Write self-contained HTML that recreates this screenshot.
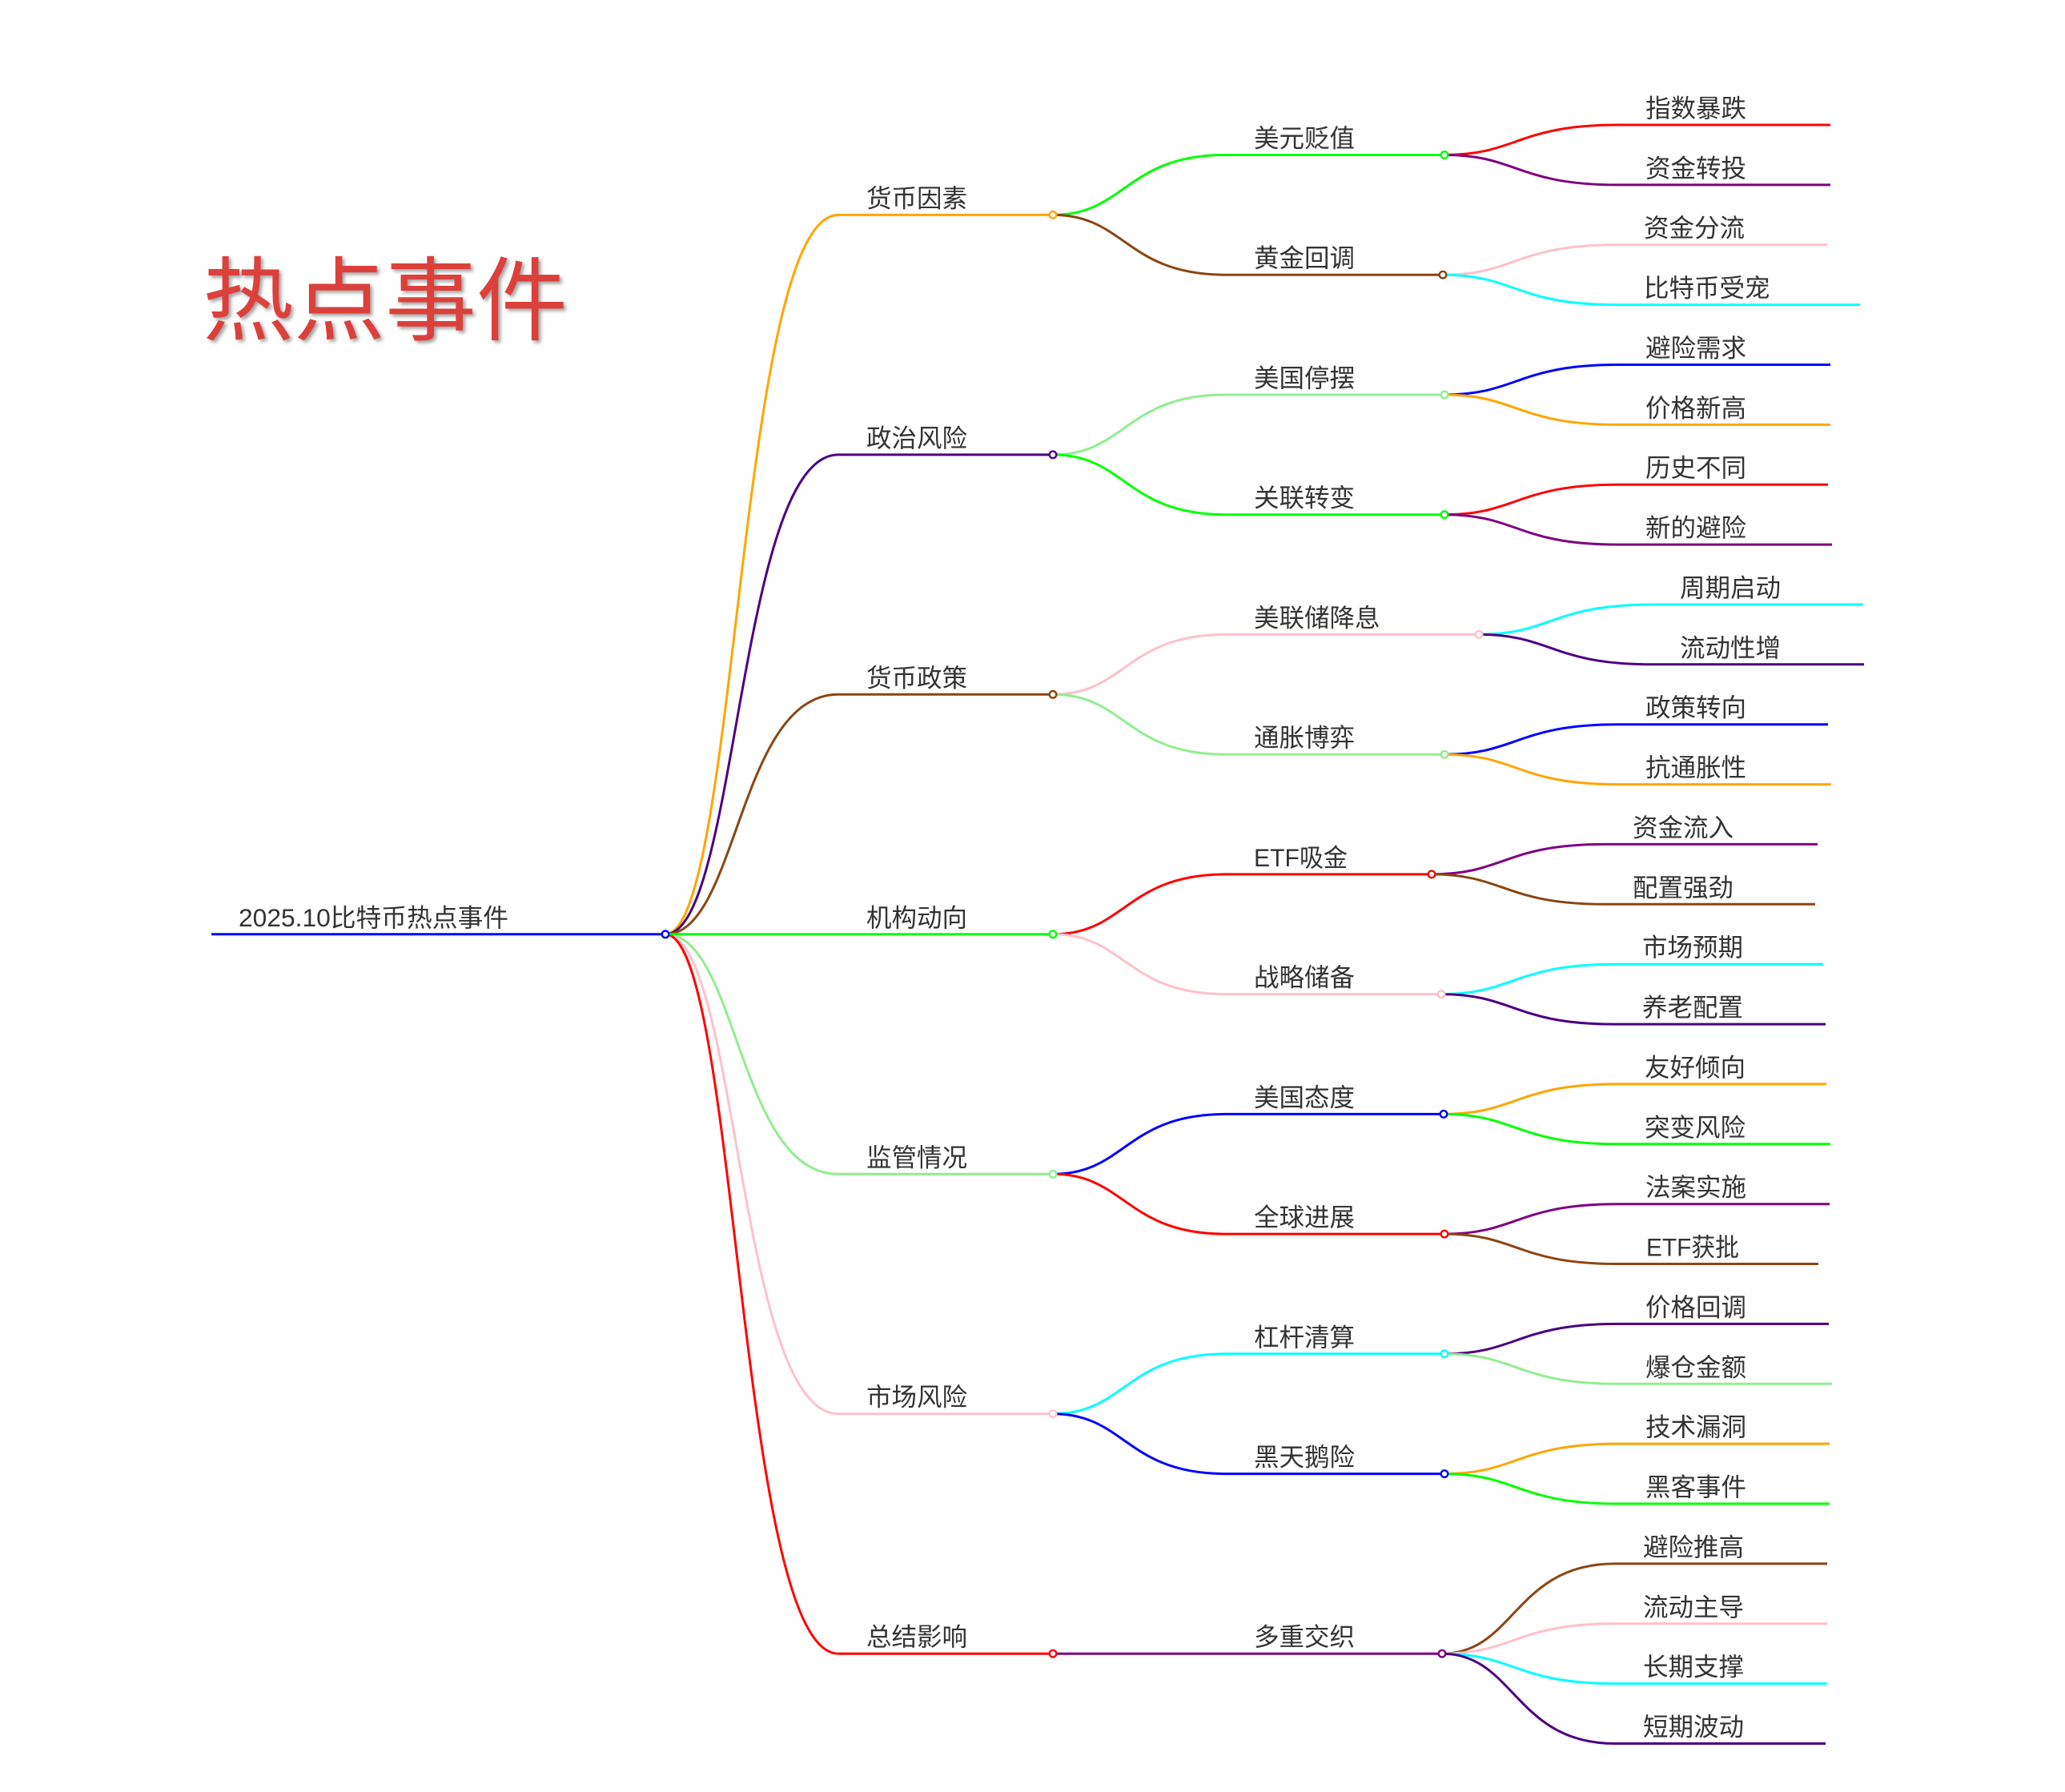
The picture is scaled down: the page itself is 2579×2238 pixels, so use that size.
<!DOCTYPE html>
<html>
<head>
<meta charset="utf-8">
<style>
  html, body { margin:0; padding:0; background:#ffffff; }
  body { width:2579px; height:2238px; overflow:hidden; }
  svg { display:block; }
  .t { font-family:"Liberation Sans","Noto Sans CJK SC",sans-serif; font-size:31.5px; fill:#333333; }
  .ln { fill:none; stroke-width:3; }
  .c { fill:#ffffff; stroke-width:2.4; }
</style>
</head>
<body>
<svg width="2579" height="2238" viewBox="0 0 2579 2238" xmlns="http://www.w3.org/2000/svg">
  <defs>
    <filter id="sh" x="-10%" y="-20%" width="130%" height="150%">
      <feDropShadow dx="3" dy="3" stdDeviation="2.2" flood-color="#555555" flood-opacity="0.55"/>
    </filter>
  </defs>

  <!-- Title -->
  <text x="253" y="416" font-family="'Noto Sans CJK SC','WenQuanYi Zen Hei',sans-serif" font-size="114" fill="#dc3f3a" filter="url(#sh)">热点事件</text>

  <!-- Root line -->
  <path class="ln" stroke="#0000ff" d="M264 1166.8 L831 1166.8"/>

  <!-- Level 1 links -->
  <path class="ln" stroke="#ffa500" d="M831 1166.8 C921.7 1166.8 921.7 268.4 1047 268.4 L1315 268.4"/>
  <path class="ln" stroke="#4b0082" d="M831 1166.8 C921.7 1166.8 921.7 567.9 1047 567.9 L1315 567.9"/>
  <path class="ln" stroke="#8b4513" d="M831 1166.8 C921.7 1166.8 921.7 867.3 1047 867.3 L1315 867.3"/>
  <path class="ln" stroke="#90ee90" d="M831 1166.8 C921.7 1166.8 921.7 1466.3 1047 1466.3 L1315 1466.3"/>
  <path class="ln" stroke="#ffc0cb" d="M831 1166.8 C921.7 1166.8 921.7 1765.7 1047 1765.7 L1315 1765.7"/>
  <path class="ln" stroke="#ff0000" d="M831 1166.8 C921.7 1166.8 921.7 2065.2 1047 2065.2 L1315 2065.2"/>
  <path class="ln" stroke="#00ff00" d="M831 1166.8 L1315 1166.8"/>

  <!-- Level 2 links -->
  <path class="ln" stroke="#00ff00" d="M1315 268.4 C1405.7 268.4 1405.7 193.5 1531 193.5 L1804 193.5"/>
  <path class="ln" stroke="#8b4513" d="M1315 268.4 C1405.7 268.4 1405.7 343.2 1531 343.2 L1802 343.2"/>
  <path class="ln" stroke="#90ee90" d="M1315 567.9 C1405.7 567.9 1405.7 493.0 1531 493.0 L1804 493.0"/>
  <path class="ln" stroke="#00ff00" d="M1315 567.9 C1405.7 567.9 1405.7 642.7 1531 642.7 L1804 642.7"/>
  <path class="ln" stroke="#ffc0cb" d="M1315 867.3 C1405.7 867.3 1405.7 792.4 1531 792.4 L1847 792.4"/>
  <path class="ln" stroke="#90ee90" d="M1315 867.3 C1405.7 867.3 1405.7 942.2 1531 942.2 L1804 942.2"/>
  <path class="ln" stroke="#ff0000" d="M1315 1166.8 C1405.7 1166.8 1405.7 1091.9 1531 1091.9 L1788 1091.9"/>
  <path class="ln" stroke="#ffc0cb" d="M1315 1166.8 C1405.7 1166.8 1405.7 1241.6 1531 1241.6 L1800 1241.6"/>
  <path class="ln" stroke="#0000ff" d="M1315 1466.3 C1405.7 1466.3 1405.7 1391.4 1531 1391.4 L1803 1391.4"/>
  <path class="ln" stroke="#ff0000" d="M1315 1466.3 C1405.7 1466.3 1405.7 1541.1 1531 1541.1 L1804 1541.1"/>
  <path class="ln" stroke="#00ffff" d="M1315 1765.7 C1405.7 1765.7 1405.7 1690.8 1531 1690.8 L1804 1690.8"/>
  <path class="ln" stroke="#0000ff" d="M1315 1765.7 C1405.7 1765.7 1405.7 1840.6 1531 1840.6 L1804 1840.6"/>
  <path class="ln" stroke="#800080" d="M1315 2065.2 L1801 2065.2"/>

  <!-- Leaf links -->
  <path class="ln" stroke="#ff0000" d="M1804 193.5 C1894.7 193.5 1894.7 156.0 2020 156.0 L2286 156.0"/>
  <path class="ln" stroke="#800080" d="M1804 193.5 C1894.7 193.5 1894.7 230.9 2020 230.9 L2286 230.9"/>
  <path class="ln" stroke="#ffc0cb" d="M1802 343.2 C1892.7 343.2 1892.7 305.7 2018 305.7 L2282 305.7"/>
  <path class="ln" stroke="#00ffff" d="M1802 343.2 C1892.7 343.2 1892.7 380.6 2018 380.6 L2323 380.6"/>
  <path class="ln" stroke="#0000ff" d="M1804 493.0 C1894.7 493.0 1894.7 455.5 2020 455.5 L2286 455.5"/>
  <path class="ln" stroke="#ffa500" d="M1804 493.0 C1894.7 493.0 1894.7 530.4 2020 530.4 L2286 530.4"/>
  <path class="ln" stroke="#ff0000" d="M1804 642.7 C1894.7 642.7 1894.7 605.2 2020 605.2 L2283 605.2"/>
  <path class="ln" stroke="#800080" d="M1804 642.7 C1894.7 642.7 1894.7 680.1 2020 680.1 L2288 680.1"/>
  <path class="ln" stroke="#00ffff" d="M1847 792.4 C1937.7 792.4 1937.7 755.0 2063 755.0 L2327 755.0"/>
  <path class="ln" stroke="#4b0082" d="M1847 792.4 C1937.7 792.4 1937.7 829.8 2063 829.8 L2328 829.8"/>
  <path class="ln" stroke="#0000ff" d="M1804 942.2 C1894.7 942.2 1894.7 904.7 2020 904.7 L2283 904.7"/>
  <path class="ln" stroke="#ffa500" d="M1804 942.2 C1894.7 942.2 1894.7 979.6 2020 979.6 L2287 979.6"/>
  <path class="ln" stroke="#800080" d="M1788 1091.9 C1878.7 1091.9 1878.7 1054.4 2004 1054.4 L2270 1054.4"/>
  <path class="ln" stroke="#8b4513" d="M1788 1091.9 C1878.7 1091.9 1878.7 1129.3 2004 1129.3 L2267 1129.3"/>
  <path class="ln" stroke="#00ffff" d="M1800 1241.6 C1890.7 1241.6 1890.7 1204.2 2016 1204.2 L2277 1204.2"/>
  <path class="ln" stroke="#4b0082" d="M1800 1241.6 C1890.7 1241.6 1890.7 1279.1 2016 1279.1 L2280 1279.1"/>
  <path class="ln" stroke="#ffa500" d="M1803 1391.4 C1893.7 1391.4 1893.7 1353.9 2019 1353.9 L2281 1353.9"/>
  <path class="ln" stroke="#00ff00" d="M1803 1391.4 C1893.7 1391.4 1893.7 1428.8 2019 1428.8 L2286 1428.8"/>
  <path class="ln" stroke="#800080" d="M1804 1541.1 C1894.7 1541.1 1894.7 1503.7 2020 1503.7 L2285 1503.7"/>
  <path class="ln" stroke="#8b4513" d="M1804 1541.1 C1894.7 1541.1 1894.7 1578.5 2020 1578.5 L2271 1578.5"/>
  <path class="ln" stroke="#4b0082" d="M1804 1690.8 C1894.7 1690.8 1894.7 1653.4 2020 1653.4 L2284 1653.4"/>
  <path class="ln" stroke="#90ee90" d="M1804 1690.8 C1894.7 1690.8 1894.7 1728.3 2020 1728.3 L2288 1728.3"/>
  <path class="ln" stroke="#ffa500" d="M1804 1840.6 C1894.7 1840.6 1894.7 1803.1 2020 1803.1 L2285 1803.1"/>
  <path class="ln" stroke="#00ff00" d="M1804 1840.6 C1894.7 1840.6 1894.7 1878.0 2020 1878.0 L2285 1878.0"/>
  <path class="ln" stroke="#8b4513" d="M1801 2065.2 C1891.7 2065.2 1891.7 1952.9 2017 1952.9 L2282 1952.9"/>
  <path class="ln" stroke="#ffc0cb" d="M1801 2065.2 C1891.7 2065.2 1891.7 2027.8 2017 2027.8 L2282 2027.8"/>
  <path class="ln" stroke="#00ffff" d="M1801 2065.2 C1891.7 2065.2 1891.7 2102.6 2017 2102.6 L2282 2102.6"/>
  <path class="ln" stroke="#4b0082" d="M1801 2065.2 C1891.7 2065.2 1891.7 2177.5 2017 2177.5 L2280 2177.5"/>

  <!-- Circles -->
  <circle class="c" cx="831" cy="1166.8" r="4.3" stroke="#0000ff"/>
  <circle class="c" cx="1315" cy="268.4" r="4.3" stroke="#ffa500"/>
  <circle class="c" cx="1315" cy="567.9" r="4.3" stroke="#4b0082"/>
  <circle class="c" cx="1315" cy="867.3" r="4.3" stroke="#8b4513"/>
  <circle class="c" cx="1315" cy="1166.8" r="4.3" stroke="#00ff00"/>
  <circle class="c" cx="1315" cy="1466.3" r="4.3" stroke="#90ee90"/>
  <circle class="c" cx="1315" cy="1765.7" r="4.3" stroke="#ffc0cb"/>
  <circle class="c" cx="1315" cy="2065.2" r="4.3" stroke="#ff0000"/>

  <circle class="c" cx="1804" cy="193.5" r="4.3" stroke="#00ff00"/>
  <circle class="c" cx="1802" cy="343.2" r="4.3" stroke="#8b4513"/>
  <circle class="c" cx="1804" cy="493.0" r="4.3" stroke="#90ee90"/>
  <circle class="c" cx="1804" cy="642.7" r="4.3" stroke="#00ff00"/>
  <circle class="c" cx="1847" cy="792.4" r="4.3" stroke="#ffc0cb"/>
  <circle class="c" cx="1804" cy="942.2" r="4.3" stroke="#90ee90"/>
  <circle class="c" cx="1788" cy="1091.9" r="4.3" stroke="#ff0000"/>
  <circle class="c" cx="1800" cy="1241.6" r="4.3" stroke="#ffc0cb"/>
  <circle class="c" cx="1803" cy="1391.4" r="4.3" stroke="#0000ff"/>
  <circle class="c" cx="1804" cy="1541.1" r="4.3" stroke="#ff0000"/>
  <circle class="c" cx="1804" cy="1690.8" r="4.3" stroke="#00ffff"/>
  <circle class="c" cx="1804" cy="1840.6" r="4.3" stroke="#0000ff"/>
  <circle class="c" cx="1801" cy="2065.2" r="4.3" stroke="#800080"/>

  <!-- Root label -->
  <text class="t" x="298" y="1156.8" textLength="337" lengthAdjust="spacingAndGlyphs">2025.10比特币热点事件</text>

  <!-- Level 1 labels -->
  <text class="t" x="1082" y="258.4">货币因素</text>
  <text class="t" x="1082" y="557.9">政治风险</text>
  <text class="t" x="1082" y="857.3">货币政策</text>
  <text class="t" x="1082" y="1156.8">机构动向</text>
  <text class="t" x="1082" y="1456.3">监管情况</text>
  <text class="t" x="1082" y="1755.7">市场风险</text>
  <text class="t" x="1082" y="2055.2">总结影响</text>

  <!-- Level 2 labels -->
  <text class="t" x="1566" y="183.5">美元贬值</text>
  <text class="t" x="1566" y="333.2">黄金回调</text>
  <text class="t" x="1566" y="483.0">美国停摆</text>
  <text class="t" x="1566" y="632.7">关联转变</text>
  <text class="t" x="1566" y="782.4">美联储降息</text>
  <text class="t" x="1566" y="932.2">通胀博弈</text>
  <text class="t" x="1566" y="1081.9" textLength="117" lengthAdjust="spacingAndGlyphs">ETF吸金</text>
  <text class="t" x="1566" y="1231.6">战略储备</text>
  <text class="t" x="1566" y="1381.4">美国态度</text>
  <text class="t" x="1566" y="1531.1">全球进展</text>
  <text class="t" x="1566" y="1680.8">杠杆清算</text>
  <text class="t" x="1566" y="1830.6">黑天鹅险</text>
  <text class="t" x="1566" y="2055.2">多重交织</text>

  <!-- Leaf labels -->
  <text class="t" x="2055" y="146.0">指数暴跌</text>
  <text class="t" x="2055" y="220.9">资金转投</text>
  <text class="t" x="2053" y="295.7">资金分流</text>
  <text class="t" x="2053" y="370.6">比特币受宠</text>
  <text class="t" x="2055" y="445.5">避险需求</text>
  <text class="t" x="2055" y="520.4">价格新高</text>
  <text class="t" x="2055" y="595.2">历史不同</text>
  <text class="t" x="2055" y="670.1">新的避险</text>
  <text class="t" x="2098" y="745.0">周期启动</text>
  <text class="t" x="2098" y="819.8">流动性增</text>
  <text class="t" x="2055" y="894.7">政策转向</text>
  <text class="t" x="2055" y="969.6">抗通胀性</text>
  <text class="t" x="2039" y="1044.4">资金流入</text>
  <text class="t" x="2039" y="1119.3">配置强劲</text>
  <text class="t" x="2051" y="1194.2">市场预期</text>
  <text class="t" x="2051" y="1269.1">养老配置</text>
  <text class="t" x="2054" y="1343.9">友好倾向</text>
  <text class="t" x="2054" y="1418.8">突变风险</text>
  <text class="t" x="2055" y="1493.7">法案实施</text>
  <text class="t" x="2056" y="1568.5" textLength="116" lengthAdjust="spacingAndGlyphs">ETF获批</text>
  <text class="t" x="2055" y="1643.4">价格回调</text>
  <text class="t" x="2055" y="1718.3">爆仓金额</text>
  <text class="t" x="2055" y="1793.1">技术漏洞</text>
  <text class="t" x="2055" y="1868.0">黑客事件</text>
  <text class="t" x="2052" y="1942.9">避险推高</text>
  <text class="t" x="2052" y="2017.8">流动主导</text>
  <text class="t" x="2052" y="2092.6">长期支撑</text>
  <text class="t" x="2052" y="2167.5">短期波动</text>
</svg>
</body>
</html>
